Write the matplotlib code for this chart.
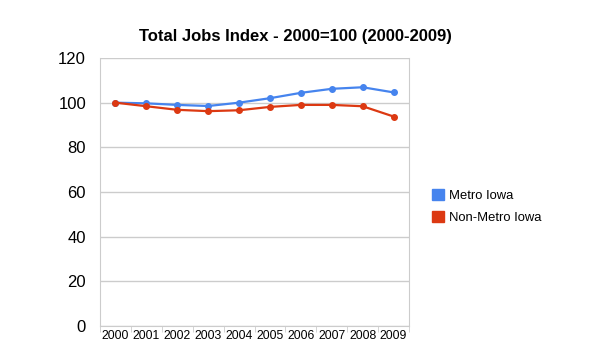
import numpy as np
import matplotlib.pyplot as plt
from matplotlib.patches import Patch

plt.rcParams['font.family'] = ['Liberation Sans', 'DejaVu Sans']

# Data
years = ['2000', '2001', '2002', '2003', '2004', '2005', '2006', '2007', '2008', '2009']
metro = [100.0, 99.7, 99.0, 98.5, 100.0, 102.0, 104.4, 106.2, 106.9, 104.6]
non_metro = [100.0, 98.4, 96.8, 96.2, 96.6, 98.1, 99.0, 99.0, 98.4, 93.8]
y_ticks = [0, 20, 40, 60, 80, 100, 120]

blue = '#4684ee'
red = '#dc3912'
grid_c = '#cccccc'

fig = plt.figure(figsize=(5.98, 3.58), dpi=100)
ax = fig.add_axes([100 / 598, 32 / 358, 309 / 598, 268 / 358])

x = np.arange(len(years))
ax.plot(x, metro, color=blue, lw=1.6, marker='o', ms=4, label='Metro Iowa')
ax.plot(x, non_metro, color=red, lw=1.6, marker='o', ms=4, label='Non-Metro Iowa')

ax.set_xlim(-0.5, len(years) - 0.5)
ax.set_ylim(0, 120)
ax.set_yticks(y_ticks)
ax.set_xticks(x)
ax.set_xticklabels(years, fontsize=8.8)
ax.set_xticks(np.arange(-0.5, len(years)), minor=True)
ax.tick_params(axis='x', which='major', length=0, pad=3)
ax.tick_params(axis='x', which='minor', length=4, color=grid_c)
ax.tick_params(axis='y', length=0, labelsize=12, pad=10)

ax.grid(axis='y', color=grid_c, lw=1)
ax.set_axisbelow(True)
for side in ['left', 'right', 'top', 'bottom']:
    ax.spines[side].set_color(grid_c)
ax.spines['top'].set_visible(False)

fig.text(295 / 598, 1 - 37 / 358, 'Total Jobs Index - 2000=100 (2000-2009)',
         fontsize=12, fontweight='bold', ha='center', va='center')

handles = [Patch(facecolor=blue, edgecolor=blue), Patch(facecolor=red, edgecolor=red)]
fig.legend(handles, ['Metro Iowa', 'Non-Metro Iowa'], loc='upper left',
           bbox_to_anchor=(420 / 598, 1 - 177 / 358), frameon=False,
           fontsize=9.4, handlelength=0.9, handleheight=0.9, handletextpad=0.4,
           labelspacing=0.7)

fig.savefig('out.png', dpi=100)
